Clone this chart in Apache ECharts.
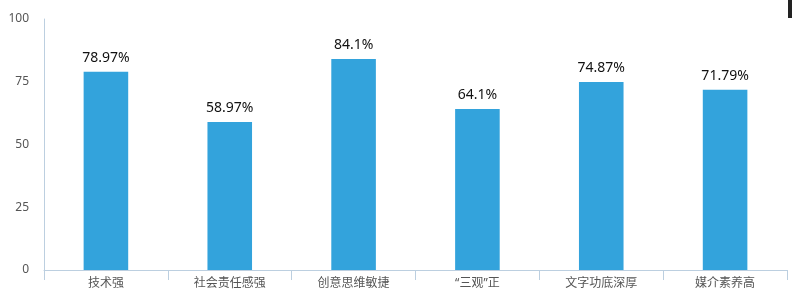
<!DOCTYPE html>
<html><head><meta charset="utf-8">
<script src="https://cdn.jsdelivr.net/npm/echarts@6/dist/echarts.min.js"></script>
<style>html,body{margin:0;padding:0;background:#fff}#c{width:792px;height:304px}</style>
</head><body><div id="c"></div>
<script>
const categories = ['技术强','社会责任感强','创意思维敏捷','“三观”正','文字功底深厚','媒介素养高'];
const values = [78.97, 58.97, 84.1, 64.1, 74.87, 71.79];
const yTicks = [0, 25, 50, 75, 100];

const chart = echarts.init(document.getElementById('c'));
chart.setOption({
  animation: false,
  grid: {left: 44, right: 5, top: 19, bottom: 34},
  xAxis: {
    type: 'category', data: categories,
    axisLine: {lineStyle: {color: '#bccfe0', width: 1}},
    axisTick: {show: true, length: 10, lineStyle: {color: '#bccfe0'}},
    axisLabel: {color: '#555', fontSize: 12, margin: 8, fontFamily: '"Noto Sans", "Noto Sans CJK SC"'}
  },
  yAxis: {
    type: 'value', min: yTicks[0], max: yTicks[yTicks.length-1], interval: 25,
    axisLine: {show: true, lineStyle: {color: '#bccfe0', width: 1}},
    axisTick: {show: false},
    splitLine: {show: false},
    axisLabel: {color: '#555', fontSize: 12, margin: 15, fontFamily: 'Noto Sans'}
  },
  series: [{
    type: 'bar', data: values, barWidth: '36%',
    itemStyle: {color: '#33a3dc'},
    label: {show: true, position: 'top', distance: 7, color: '#111', fontSize: 14,
      fontFamily: 'Noto Sans', formatter: p => p.value + '%'}
  }],
  graphic: [{type: 'rect', shape: {x: 788, y: 0, width: 4, height: 18}, style: {fill: '#222'}}]
});
</script></body></html>
